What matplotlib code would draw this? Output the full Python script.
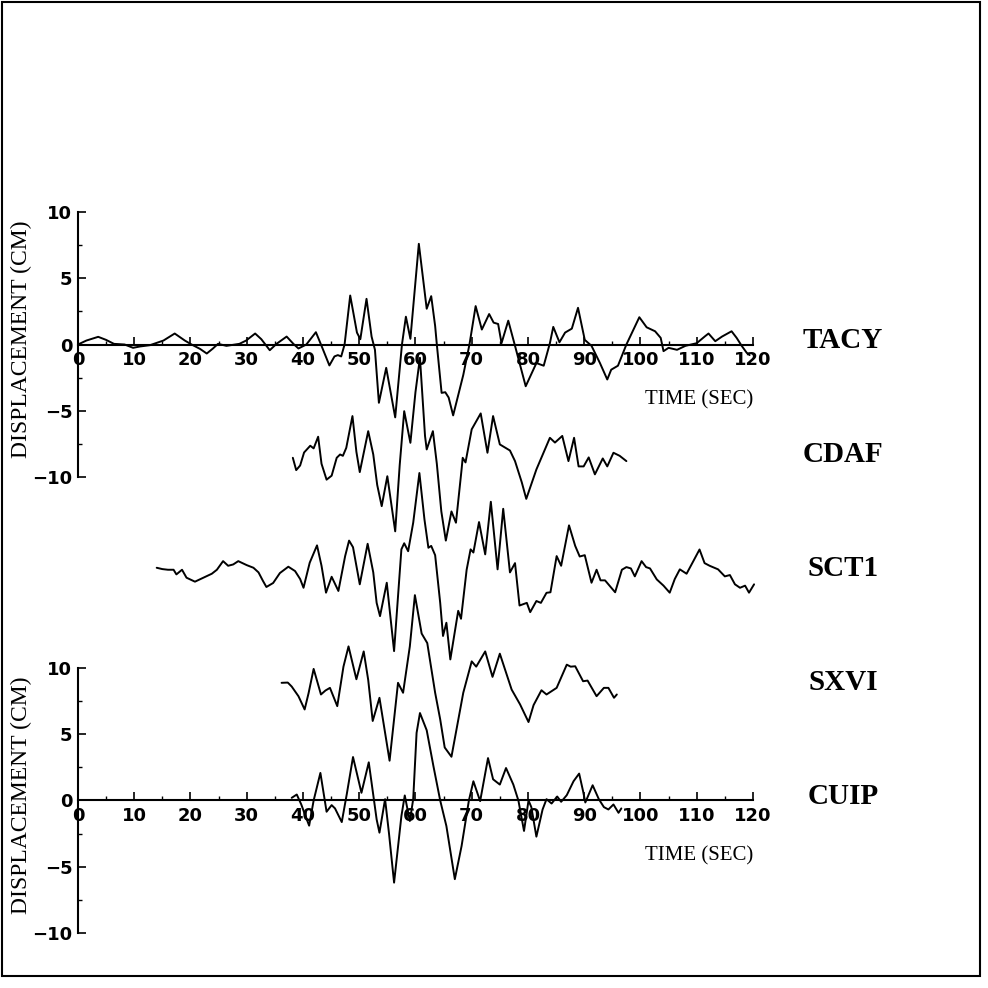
import matplotlib.pyplot as plt
from matplotlib.patches import Rectangle
from matplotlib.ticker import MultipleLocator
import numpy as np

# (time sec, displacement cm), relative to its own baseline
tacy = [(0, 0), (1.5, 0.3), (3.6, 0.58), (5, 0.35), (6.4, 0.05), (8.3, 0), (9.8, -0.25),
        (11, -0.15), (12.8, -0.05), (15.2, 0.3), (17.2, 0.83), (19, 0.3), (20.2, 0),
        (21.7, -0.33), (22.9, -0.68), (24, -0.3), (24.9, 0.05), (26.4, -0.1), (28.7, 0.05),
        (29.9, 0.3), (31.5, 0.83), (32.6, 0.4), (34.1, -0.43), (35.3, 0.05), (37.1, 0.6),
        (38.3, 0.05), (39.2, -0.3), (40.6, 0), (42.3, 0.93), (43.3, -0.1), (44.7, -1.58),
        (45.6, -0.9), (46.2, -0.8), (46.8, -0.9), (47.4, 0), (48.4, 3.7), (49.6, 0.9),
        (50.2, 0.4), (51.3, 3.45), (52.2, 0.6), (52.8, -0.4), (53.5, -4.4), (54.8, -1.76),
        (56.4, -5.5), (57.6, 0), (58.3, 2.1), (59.1, 0.43), (60.6, 7.6), (62.0, 2.7),
        (62.8, 3.65), (63.5, 1.4), (63.8, 0), (64.65, -3.65), (65.3, -3.6), (65.9, -4.0),
        (66.7, -5.35), (68.5, -2.3), (69.6, 0), (70.7, 2.9), (71.8, 1.13), (73.1, 2.3),
        (73.9, 1.65), (74.7, 1.55), (75.3, 0.1), (76.5, 1.8), (77.7, -0.1), (79.6, -3.15),
        (81.5, -1.4), (82.8, -1.6), (83.9, 0.1), (84.5, 1.33), (85.6, 0.17), (86.6, 0.9),
        (87.8, 1.2), (88.9, 2.77), (90.1, 0.35), (91.3, -0.1), (92.8, -1.4), (94.1, -2.64),
        (94.8, -1.9), (96.0, -1.6), (97.5, 0), (99.8, 2.06), (101.1, 1.3), (102.6, 1.0),
        (103.6, 0.5), (104.1, -0.5), (105.0, -0.25), (106.5, -0.4), (108, -0.1), (110, 0.1),
        (111.5, 0.63), (112.1, 0.83), (113.3, 0.25), (114.5, 0.6), (116.2, 1.0), (117.1, 0.5),
        (118.0, -0.1), (118.9, -0.63), (119.4, -0.8)]

cdaf = [(38.2, 0.05), (38.8, -0.88), (39.5, -0.53), (40.2, 0.45), (41.3, 0.96), (41.9, 0.76),
        (42.7, 1.64), (43.3, -0.4), (44.2, -1.6), (45.1, -1.3), (46.0, 0.05), (46.6, 0.3),
        (47.1, 0.2), (47.7, 0.8), (48.8, 3.2), (49.5, 0.5), (50.1, -1.03), (51.6, 2.06),
        (52.5, 0.3), (53.2, -2.0), (54.0, -3.6), (55.0, -1.34), (56.4, -5.5), (57.2, -0.5),
        (58.0, 3.57), (59.1, 1.18), (60.0, 5.0), (60.8, 7.6), (61.7, 1.7), (62.0, 0.68),
        (63.1, 2.06), (63.8, -0.4), (64.6, -4.0), (65.4, -6.2), (66.4, -4.0), (67.2, -4.85),
        (68.2, -0.83), (68.4, 0.05), (68.9, -0.3), (70.0, 2.2), (71.6, 3.4), (72.8, 0.43),
        (73.8, 3.2), (75.0, 1.06), (76.8, 0.6), (77.7, -0.2), (78.9, -1.8), (79.7, -3.05),
        (81.5, -0.83), (83.9, 1.56), (84.8, 1.2), (86.1, 1.7), (87.2, -0.2), (88.2, 1.56),
        (89.0, -0.6), (89.9, -0.6), (90.8, 0.08), (91.9, -1.2), (93.3, 0.0), (94.1, -0.6),
        (95.2, 0.43), (96.3, 0.2), (97.5, -0.2)]

sct1 = [(14.0, 0.35), (15.0, 0.25), (16.0, 0.2), (17.0, 0.2), (17.5, -0.15), (18.5, 0.2),
        (19.3, -0.4), (20.8, -0.7), (22.3, -0.4), (23.8, -0.1), (24.7, 0.2), (25.8, 0.85),
        (26.7, 0.5), (27.6, 0.6), (28.5, 0.85), (30.0, 0.55), (31.2, 0.35), (32.1, 0.0),
        (32.9, -0.65), (33.5, -1.1), (34.7, -0.8), (35.9, -0.05), (37.4, 0.43), (38.6, 0.1),
        (39.5, -0.5), (40.1, -1.16), (41.2, 0.73), (42.5, 2.04), (43.3, 0.5), (44.1, -1.53),
        (45.1, -0.33), (46.3, -1.4), (47.5, 1.23), (48.2, 2.4), (48.9, 1.9), (50.1, -0.9),
        (51.5, 2.16), (52.5, 0.0), (53.1, -2.3), (53.7, -3.3), (54.9, -0.78), (56.2, -5.94),
        (57.5, 1.74), (58.0, 2.2), (58.7, 1.6), (59.6, 3.75), (60.7, 7.5), (61.6, 4.0),
        (62.3, 1.86), (62.8, 2.0), (63.5, 1.3), (64.4, -2.3), (64.9, -4.8), (65.5, -3.8),
        (66.2, -6.57), (67.6, -2.9), (68.1, -3.5), (69.1, 0.2), (69.8, 1.74), (70.3, 1.5),
        (71.3, 3.8), (72.4, 1.36), (73.4, 5.33), (74.6, 0.23), (75.6, 4.8), (76.8, 0.0),
        (77.7, 0.7), (78.5, -2.5), (79.8, -2.3), (80.4, -3.0), (81.5, -2.16), (82.3, -2.3),
        (83.3, -1.54), (84.0, -1.5), (85.1, 1.23), (85.9, 0.5), (87.3, 3.55), (88.4, 2.0),
        (89.2, 1.2), (90.1, 1.3), (91.3, -0.78), (92.2, 0.2), (92.9, -0.6), (93.7, -0.6),
        (94.3, -0.9), (95.5, -1.5), (96.7, 0.2), (97.5, 0.4), (98.3, 0.3), (99.0, -0.3),
        (100.2, 0.85), (101.0, 0.4), (101.7, 0.3), (102.9, -0.53), (104.1, -1.0),
        (105.2, -1.53), (106.1, -0.5), (107.0, 0.23), (108.2, -0.1), (109.4, 0.85),
        (110.5, 1.73), (111.4, 0.7), (112.3, 0.5), (113.8, 0.23), (115.0, -0.3), (115.9, -0.2),
        (116.8, -0.9), (117.7, -1.16), (118.6, -1.0), (119.3, -1.53), (120.2, -0.9)]

sxvi = [(36.2, 0.28), (37.3, 0.3), (38.0, 0.0), (39.2, -0.73), (40.3, -1.73), (41.0, -0.5),
        (41.9, 1.33), (43.2, -0.6), (44.0, -0.3), (44.8, -0.1), (46.1, -1.48), (47.2, 1.5),
        (48.1, 3.03), (49.5, 0.55), (50.8, 2.65), (51.6, 0.5), (52.4, -2.6), (53.6, -0.85),
        (55.4, -5.6), (56.9, 0.28), (57.8, -0.47), (59.0, 3.03), (59.9, 6.9), (61.1, 4.0),
        (62.1, 3.28), (63.5, -0.47), (64.4, -2.48), (65.2, -4.6), (66.4, -5.3), (68.5, -0.47),
        (70.0, 1.9), (70.8, 1.5), (72.4, 2.65), (73.7, 0.73), (75.0, 2.48), (77.1, -0.23),
        (78.6, -1.35), (80.1, -2.68), (81.0, -1.4), (82.4, -0.28), (83.3, -0.6), (85.1, -0.1),
        (86.9, 1.65), (87.6, 1.5), (88.4, 1.53), (89.8, 0.4), (90.6, 0.45), (92.2, -0.73),
        (93.5, -0.1), (94.3, -0.1), (95.3, -0.85), (95.8, -0.6)]

cuip = [(38.0, 0.2), (38.9, 0.45), (39.7, -0.3), (40.3, -1.0), (41.1, -1.9), (41.9, 0.0),
        (43.1, 2.08), (44.2, -0.85), (45.1, -0.35), (45.7, -0.6), (46.9, -1.63), (47.8, 0.5),
        (48.9, 3.28), (50.4, 0.58), (51.7, 2.88), (53.1, -1.43), (53.6, -2.43), (54.6, 0.1),
        (55.3, -2.5), (56.2, -6.2), (57.5, -1.18), (58.1, 0.38), (59.0, -1.55), (59.6, 0.1),
        (60.2, 5.1), (60.8, 6.6), (62.0, 5.3), (63.2, 2.58), (64.4, 0.0), (65.5, -1.93),
        (67.0, -5.94), (68.2, -3.44), (69.5, 0.0), (70.3, 1.45), (71.5, -0.05), (72.9, 3.2),
        (73.8, 1.6), (75.0, 1.2), (76.1, 2.45), (77.4, 1.2), (78.3, 0.0), (79.3, -2.3),
        (80.1, 0.0), (80.6, -0.5), (81.5, -2.73), (82.6, -0.68), (83.3, 0.1), (84.2, -0.23),
        (85.2, 0.3), (85.9, -0.1), (86.9, 0.4), (88.1, 1.45), (89.1, 2.03), (89.8, 0.7),
        (90.2, -0.15), (91.5, 1.15), (92.6, 0.1), (93.5, -0.5), (94.3, -0.68), (95.2, -0.3),
        (96.1, -0.93), (96.6, -0.6)]

stations = ['TACY', 'CDAF', 'SCT1', 'SXVI', 'CUIP']
traces = [tacy, cdaf, sct1, sxvi, cuip]
offsets = [0, -8.6, -17.2, 8.6, 0]   # baseline in cm, first three on top axes, last two on bottom
on_top = [True, True, True, False, False]

fig = plt.figure(figsize=(9.88, 9.88), dpi=100)
fig.add_artist(Rectangle((0.002, 0.012), 0.990, 0.986, transform=fig.transFigure,
                         fill=False, lw=1.5, ec='black'))

tick_font = dict(family='DejaVu Sans', weight='bold', size=13)
serif = 'Liberation Serif'


def make_axes(bottom):
    ax = fig.add_axes([0.0789, bottom, 0.6832, 0.2682])
    ax.set_xlim(0, 120)
    ax.set_ylim(-10, 10)
    ax.patch.set_visible(False)
    ax.spines['left'].set_position(('data', 0))
    ax.spines['bottom'].set_position(('data', 0))
    ax.spines['top'].set_visible(False)
    ax.spines['right'].set_visible(False)
    for s in ['left', 'bottom']:
        ax.spines[s].set_linewidth(1.5)
    ax.xaxis.set_major_locator(MultipleLocator(10))
    ax.xaxis.set_minor_locator(MultipleLocator(5))
    ax.yaxis.set_major_locator(MultipleLocator(5))
    ax.yaxis.set_minor_locator(MultipleLocator(2.5))
    ax.tick_params(which='major', direction='in', length=6, width=1.2)
    ax.tick_params(which='minor', direction='in', length=3, width=1.0)
    ax.tick_params(axis='x', pad=5)
    ax.tick_params(axis='y', pad=4)
    for lab in ax.get_xticklabels() + ax.get_yticklabels():
        lab.set_fontproperties(tick_font)
    ax.text(-0.083, 0.52, 'DISPLACEMENT (CM)', transform=ax.transAxes, rotation=90,
            ha='center', va='center', fontsize=17, family=serif)
    ax.text(110.4, -4.2, 'TIME (SEC)', ha='center', va='center', fontsize=15,
            family=serif, clip_on=False)
    return ax


ax_top = make_axes(0.5172)
ax_bot = make_axes(0.0557)

for name, tr, off, top in zip(stations, traces, offsets, on_top):
    ax = ax_top if top else ax_bot
    t, d = np.array(tr).T
    ax.plot(t, d + off, color='black', lw=1.4, clip_on=False,
            solid_joinstyle='round', solid_capstyle='round')
    ax.text(136, off + 0.3, name, ha='center', va='center', fontsize=21,
            family=serif, weight='bold', clip_on=False)

fig.savefig('out.png', dpi=100)
